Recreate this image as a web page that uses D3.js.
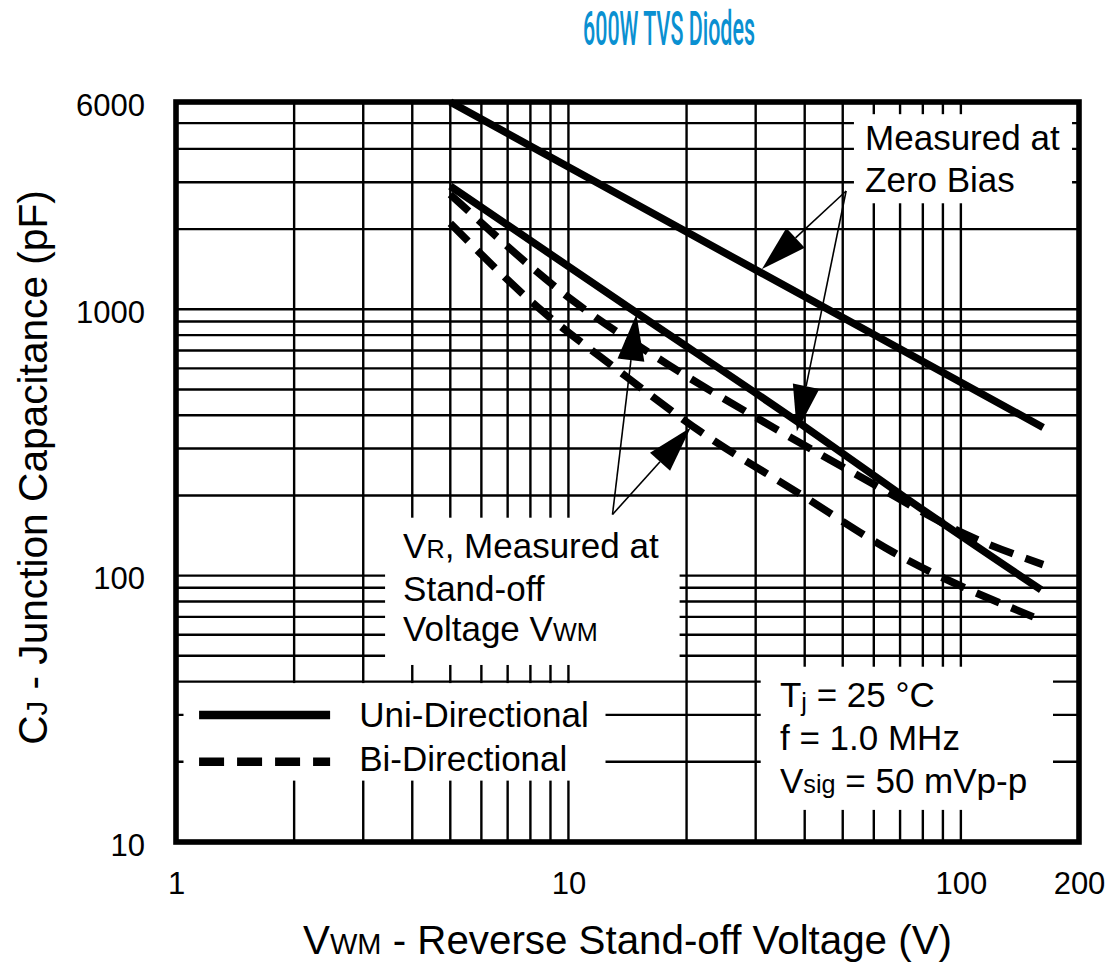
<!DOCTYPE html>
<html><head><meta charset="utf-8">
<script src="https://cdn.jsdelivr.net/npm/d3@7"></script>
<style>
html,body{margin:0;padding:0;background:#fff;}
svg text{font-family:"Liberation Sans",Arial,Helvetica,sans-serif;fill:#000;}
</style></head><body>
<svg id="chart" width="1112" height="965"></svg>
<script>
// ---------- data ----------
const chartTitle = "600W TVS Diodes";
const xTickValues = [1, 10, 100, 200];
const yTickValues = [10, 100, 1000, 6000];
const xGridValues = [2,3,4,5,6,7,8,9,10,20,30,40,50,60,70,80,90,100];
const yGridValues = [20,30,40,50,60,70,80,90,100,200,300,400,500,600,700,800,900,1000,2000,3000,4000,5000];

// Uni-directional, measured at zero bias
const uniZeroV = [5, 19.4, 45.8, 162];
const uniZeroC = [6000, 2000, 1000, 360];
// Uni-directional, measured at VR = VWM
const uniVrV = [5, 15, 39, 73, 160];
const uniVrC = [2900, 965, 372, 194, 88.5];
// Bi-directional, measured at zero bias
const biZeroV = [5, 10.4, 17.9, 32.2, 56.9, 106, 162];
const biZeroC = [2700, 1062, 621, 370, 230, 140, 110];
// Bi-directional, measured at VR = VWM
const biVrV = [5, 8.3, 13.3, 21.7, 38.4, 67.5, 153];
const biVrC = [2100, 1026, 594, 347, 205, 122, 70];

const legendLabels = ["Uni-Directional", "Bi-Directional"];
const conditionLines = ["T|j|sub| = 25 °C", "f = 1.0 MHz", "V|sig|small| = 50 mVp-p"];

// ---------- layout ----------
const svg = d3.select("#chart");
const x = d3.scaleLog().domain([1, 200]).range([176, 1079]);
const y = d3.scaleLog().domain([10, 6000]).range([842, 102]);
const curveW = 7.5, gridW = 2.4, borderW = 5.6;
const fs = 35;

// title
svg.append("text").attr("x", 583).attr("y", 45)
  .attr("textLength", 172).attr("lengthAdjust", "spacingAndGlyphs")
  .style("font-family", "Roboto, 'Liberation Sans', sans-serif")
  .style("font-size", "49px").style("font-weight", 500).style("fill", "#0a90d1")
  .text(chartTitle);

// grid
const grid = svg.append("g");
grid.selectAll(".vg").data(xGridValues).enter().append("line")
  .attr("x1", d => x(d)).attr("x2", d => x(d))
  .attr("y1", y(6000)).attr("y2", y(10))
  .attr("stroke", "#000").attr("stroke-width", gridW);
grid.selectAll(".hg").data(yGridValues).enter().append("line")
  .attr("y1", d => y(d)).attr("y2", d => y(d))
  .attr("x1", x(1)).attr("x2", x(200))
  .attr("stroke", "#000").attr("stroke-width", gridW);

// white annotation panels (in data units)
const panels = [
  {v: [53.4, 192], c: [2500, 5400]},
  {v: [3.41, 19.2], c: [46.2, 165]},
  {v: [1.045, 12.43], c: [17.0, 39.5]},
  {v: [30.9, 171.7], c: [13.2, 45.5]}
];
svg.append("g").selectAll("rect").data(panels).enter().append("rect")
  .attr("x", d => x(d.v[0])).attr("width", d => x(d.v[1]) - x(d.v[0]))
  .attr("y", d => y(d.c[1])).attr("height", d => y(d.c[0]) - y(d.c[1]))
  .attr("fill", "#fff");

// curves
const series = [
  {v: uniZeroV, c: uniZeroC, dash: null},
  {v: uniVrV, c: uniVrC, dash: null},
  {v: biZeroV, c: biZeroC, dash: "25,13"},
  {v: biVrV, c: biVrC, dash: "25,13"}
];
const line = d3.line().x(d => x(d[0])).y(d => y(d[1])).curve(d3.curveMonotoneX);
svg.append("g").selectAll("path").data(series).enter().append("path")
  .attr("d", s => line(s.v.map((v, i) => [v, s.c[i]])))
  .attr("fill", "none").attr("stroke", "#000").attr("stroke-width", curveW)
  .attr("stroke-dasharray", s => s.dash);

// legend
const legendV = [1.145, 2.47];
const legendC = [30, 20];
const lg = svg.append("g");
legendLabels.forEach((lab, i) => {
  lg.append("line").attr("x1", x(legendV[0])).attr("x2", x(legendV[1]))
    .attr("y1", y(legendC[i])).attr("y2", y(legendC[i]))
    .attr("stroke", "#000").attr("stroke-width", 8.5)
    .attr("stroke-dasharray", i === 1 ? "25,13" : null);
});

// arrows
const arrows = [
  {from: [51, 2780], to: [31.1, 1414]},
  {from: [51, 2780], to: [38.2, 348]},
  {from: [12.95, 169.6], to: [14.9, 957]},
  {from: [12.95, 169.6], to: [20.5, 360]}
];
const ag = svg.append("g");
arrows.forEach(a => {
  const p0 = [x(a.from[0]), y(a.from[1])], p1 = [x(a.to[0]), y(a.to[1])];
  const dx = p1[0] - p0[0], dy = p1[1] - p0[1], L = Math.hypot(dx, dy);
  const ux = dx / L, uy = dy / L, nx = -uy, ny = ux;
  const hl = 46, hw = 13.5;
  const b = [p1[0] - ux * hl, p1[1] - uy * hl];
  ag.append("line").attr("x1", p0[0]).attr("y1", p0[1]).attr("x2", b[0]).attr("y2", b[1])
    .attr("stroke", "#000").attr("stroke-width", 1.6);
  ag.append("polygon").attr("points",
    [p1, [b[0] + nx * hw, b[1] + ny * hw], [b[0] - nx * hw, b[1] - ny * hw]].map(p => p.join(",")).join(" "))
    .attr("fill", "#000");
});

// rich text: "text|small|kind|rest" encodes reduced-size parts
function addRich(sel, spec) {
  const bits = spec.split("|");
  let i = 0, pendingDy = 0;
  while (i < bits.length) {
    const t = sel.append("tspan").text(bits[i]);
    if (pendingDy) { t.attr("dy", pendingDy); pendingDy = 0; }
    i++;
    if (i < bits.length) {
      const ts = sel.append("tspan").text(bits[i]).style("font-size", "0.72em");
      if (bits[i + 1] === "sub") { ts.attr("dy", 4); pendingDy = -4; }
      i += 2;
    }
  }
}
const notes = [
  {v: 57.0, c: 3962, s: "Measured at"},
  {v: 57.0, c: 2755, s: "Zero Bias"},
  {v: 3.79, c: 116.5, s: "V|R|small|, Measured at"},
  {v: 3.79, c: 80.3, s: "Stand-off"},
  {v: 3.79, c: 56.8, s: "Voltage V|WM|small|"},
  {v: 2.93, c: 27.0, s: legendLabels[0]},
  {v: 2.93, c: 18.5, s: legendLabels[1]},
  {v: 34.6, c: 32.1, s: conditionLines[0]},
  {v: 34.6, c: 22.1, s: conditionLines[1]},
  {v: 34.6, c: 15.3, s: conditionLines[2]}
];
const tg = svg.append("g");
notes.forEach(n => {
  const t = tg.append("text").attr("x", x(n.v)).attr("y", y(n.c)).style("font-size", fs + "px");
  addRich(t, n.s);
});

// axes (labels only)
const xAxis = d3.axisBottom(x).tickValues(xTickValues).tickSize(0).tickPadding(30).tickFormat(d3.format("d"));
const yAxis = d3.axisLeft(y).tickValues(yTickValues).tickSize(0).tickPadding(31).tickFormat(d3.format("d"));
const gx = svg.append("g").attr("transform", `translate(0,${y(10)})`).call(xAxis);
const gy = svg.append("g").attr("transform", `translate(${x(1)},0)`).call(yAxis);
[gx, gy].forEach(g => {
  g.select(".domain").remove();
  g.selectAll("text").style("font-family", "'Liberation Sans',Arial,sans-serif").style("font-size", "31px").attr("fill", "#000");
});
gy.selectAll("text").attr("dy", "0.42em");

// axis titles, fitted to measured widths
function fitText(t, target) {
  const w = t.node().getComputedTextLength();
  const f = parseFloat(t.style("font-size"));
  t.style("font-size", (f * target / w) + "px");
}
const xt = svg.append("text").attr("x", 627.5).attr("y", 954).attr("text-anchor", "middle").style("font-size", "40px");
addRich(xt, "V|WM|small| - Reverse Stand-off Voltage (V)");
fitText(xt, 649);
const yt = svg.append("text").attr("transform", "translate(47,467.5) rotate(-90)").attr("text-anchor", "middle").style("font-size", "40px");
addRich(yt, "C|J|small| - Junction Capacitance (pF)");
fitText(yt, 555);

// border
svg.append("rect").attr("x", x(1)).attr("y", y(6000))
  .attr("width", x(200) - x(1)).attr("height", y(10) - y(6000))
  .attr("fill", "none").attr("stroke", "#000").attr("stroke-width", borderW);
</script>
</body></html>
